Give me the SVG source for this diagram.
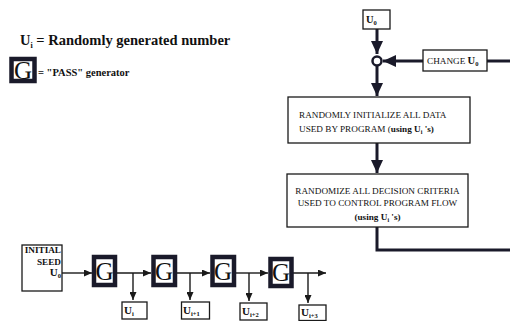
<svg xmlns="http://www.w3.org/2000/svg" width="510" height="321" viewBox="0 0 510 321" font-family="'Liberation Serif', 'DejaVu Serif', serif">
<style>
.bx{fill:#fff;stroke:#1a1a1a;stroke-width:1.3}
.gb{fill:#fff;stroke:#1a1a2a;stroke-width:4.5}
.ln{fill:none;stroke:#1a1a2a;stroke-width:3}
.sl{fill:none;stroke:#1a1a1a;stroke-width:1.4}
text{font-family:'Liberation Serif','DejaVu Serif',serif;fill:#111}
.cap{font-size:9.2px}
.b{font-weight:bold}
.g{font-size:25px;text-anchor:middle}
</style>
<defs>
<marker id="big" markerUnits="userSpaceOnUse" markerWidth="13" markerHeight="12" refX="13" refY="6" orient="auto">
<path d="M0,0 L13,6 L0,12 z" fill="#1a1a2a"/>
</marker>
<marker id="sm" markerUnits="userSpaceOnUse" markerWidth="8" markerHeight="7" refX="8" refY="3.5" orient="auto">
<path d="M0,0 L8,3.5 L0,7 z" fill="#1a1a1a"/>
</marker>
</defs>

<g id="legend">
<text class="b" x="20" y="45" font-size="14.5">U<tspan font-size="8" dy="3">i</tspan><tspan dy="-3"> =  Randomly generated number</tspan></text>
<rect class="gb" x="11.5" y="59" width="23" height="22"/>
<text class="g" x="23" y="79" font-size="23">G</text>
<text class="b" x="38" y="76" font-size="10.5">= "PASS" generator</text>
</g>

<g id="connectors">
<line class="ln" x1="377" y1="29" x2="377" y2="54" marker-end="url(#big)"/>
<line class="ln" x1="423" y1="61" x2="383" y2="61" marker-end="url(#big)"/>
<line class="ln" x1="487" y1="61" x2="510" y2="61"/>
<line class="ln" x1="377" y1="66" x2="377" y2="96" marker-end="url(#big)"/>
<line class="ln" x1="377" y1="143" x2="377" y2="173" marker-end="url(#big)"/>
<polyline class="ln" points="377,227 377,250 510,250"/>

<line class="sl" x1="62" y1="273" x2="92" y2="273" marker-end="url(#sm)"/>
<line class="sl" x1="117" y1="273" x2="151" y2="273" marker-end="url(#sm)"/>
<line class="sl" x1="133" y1="273" x2="133" y2="300" marker-end="url(#sm)"/>
<line class="sl" x1="177" y1="273" x2="210" y2="273" marker-end="url(#sm)"/>
<line class="sl" x1="190" y1="273" x2="190" y2="300" marker-end="url(#sm)"/>
<line class="sl" x1="236" y1="273" x2="268" y2="273" marker-end="url(#sm)"/>
<line class="sl" x1="249" y1="273" x2="249" y2="301" marker-end="url(#sm)"/>
<line class="sl" x1="293" y1="273" x2="326" y2="273" marker-end="url(#sm)"/>
<line class="sl" x1="308" y1="273" x2="308" y2="303" marker-end="url(#sm)"/>
</g>

<g id="u0">
<rect class="bx" x="363" y="10" width="27" height="19"/>
<text class="b" x="366" y="23" font-size="10.5">U<tspan font-size="6.5" dy="2">0</tspan></text>
</g>

<g id="junction">
<circle cx="377" cy="61" r="4.5" fill="#fff" stroke="#1a1a2a" stroke-width="2.5"/>
</g>

<g id="change">
<rect class="bx" x="423" y="50" width="64" height="21"/>
<text class="cap" x="427" y="64">CHANGE <tspan class="b" font-size="10.5">U</tspan><tspan class="b" font-size="6.5" dy="2">0</tspan></text>
</g>

<g id="init">
<rect class="bx" x="288" y="97" width="182" height="46"/>
<text class="cap" x="299" y="118">RANDOMLY INITIALIZE  ALL DATA</text>
<text class="cap" x="299" y="132">USED BY PROGRAM (<tspan class="b">using  U</tspan><tspan class="b" font-size="6" dy="2">i</tspan><tspan class="b" dy="-2"> 's)</tspan></text>
</g>

<g id="randomize">
<rect class="bx" x="287" y="174" width="181" height="53"/>
<text class="cap" x="377.5" y="194" text-anchor="middle">RANDOMIZE ALL DECISION CRITERIA</text>
<text class="cap" x="377.5" y="206" text-anchor="middle">USED TO CONTROL PROGRAM FLOW</text>
<text class="cap b" x="377.5" y="220" text-anchor="middle">(using  U<tspan font-size="6" dy="2">i</tspan><tspan dy="-2"> 's)</tspan></text>
</g>

<g id="seed">
<rect class="bx" x="22" y="245" width="40" height="46"/>
<text class="cap b" x="61" y="253" text-anchor="end" font-size="9.6">INITIAL</text>
<text class="cap b" x="61" y="265" text-anchor="end" font-size="9.6">SEED</text>
<text class="b" x="61" y="276" text-anchor="end" font-size="11">U<tspan font-size="6.5" dy="2">0</tspan></text>
</g>

<g id="g1"><rect class="gb" x="94" y="257" width="21" height="28"/><text class="g" x="104.5" y="280">G</text></g>
<g id="g2"><rect class="gb" x="153.5" y="257" width="21.5" height="28"/><text class="g" x="164" y="280">G</text></g>
<g id="g3"><rect class="gb" x="212.5" y="257" width="21.5" height="28"/><text class="g" x="223" y="280">G</text></g>
<g id="g4"><rect class="gb" x="270.5" y="259" width="21" height="27"/><text class="g" x="281" y="281">G</text></g>

<g id="ui"><rect class="bx" x="122" y="302" width="25" height="17"/><text class="b" x="124" y="314" font-size="11">U<tspan font-size="6.5" dy="2">i</tspan></text></g>
<g id="ui1"><rect class="bx" x="181.5" y="302" width="28" height="17"/><text class="b" x="183" y="314" font-size="11">U<tspan font-size="6.5" dy="2">i+1</tspan></text></g>
<g id="ui2"><rect class="bx" x="240" y="303" width="27" height="17"/><text class="b" x="242" y="315" font-size="11">U<tspan font-size="6.5" dy="2">i+2</tspan></text></g>
<g id="ui3"><rect class="bx" x="299" y="305" width="27" height="15.5"/><text class="b" x="301" y="316" font-size="11">U<tspan font-size="6.5" dy="2">i+3</tspan></text></g>
</svg>
